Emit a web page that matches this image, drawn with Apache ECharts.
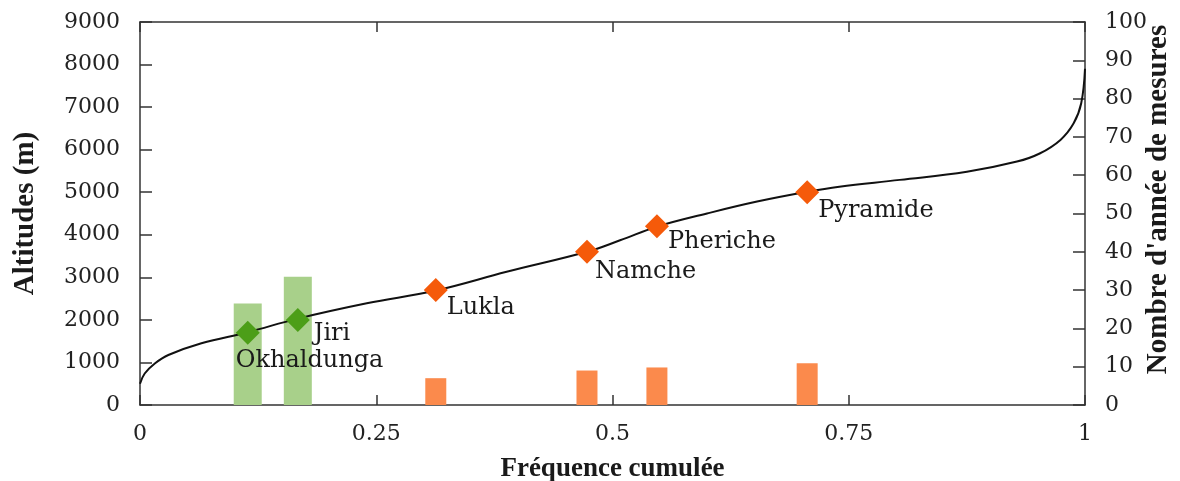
<!DOCTYPE html>
<html>
<head>
<meta charset="utf-8">
<script src="https://cdn.jsdelivr.net/npm/echarts@6/dist/echarts.min.js"></script>
<style>html,body{margin:0;padding:0;background:#fff}#c{width:1180px;height:481px}</style>
</head>
<body>
<div id="c"></div>
<script>
// Hypsometric curve (cumulative frequency vs altitude)
const curveX = [0, 0.005, 0.016, 0.03, 0.065, 0.114, 0.167, 0.24, 0.313, 0.388, 0.473, 0.508, 0.547, 0.6, 0.653, 0.706, 0.74, 0.804, 0.875, 0.928, 0.952, 0.974, 0.988, 0.996, 1.0];
const curveY = [500, 740, 980, 1175, 1450, 1710, 2030, 2390, 2690, 3130, 3600, 3870, 4190, 4500, 4780, 5010, 5130, 5290, 5480, 5720, 5910, 6230, 6620, 7090, 7900];

// Stations
const greenNames = ['Okhaldunga', 'Jiri'];
const greenX = [0.114, 0.167];
const greenAlt = [1700, 2000];
const greenYears = [26.5, 33.5];

const orangeNames = ['Lukla', 'Namche', 'Pheriche', 'Pyramide'];
const orangeX = [0.313, 0.473, 0.547, 0.706];
const orangeAlt = [2700, 3600, 4200, 5000];
const orangeYears = [7, 9, 9.8, 10.9];

const xTicks = [0, 0.25, 0.5, 0.75, 1];

const FONT = 'DejaVu Serif';
const TFONT = 'Liberation Serif';
const TXT = '#1a1a1a';
const AX = '#333';

const labelPos = {
  'Okhaldunga': [0, 28], 'Jiri': [28, 14], 'Lukla': [23, 18],
  'Namche': [20, 20], 'Pheriche': [23, 15], 'Pyramide': [23, 19]
};

function stationPoints(names, xs, alts) {
  return names.map((n, i) => ({
    name: n, value: [xs[i], alts[i]],
    label: { show: true, formatter: n, position: labelPos[n], align: 'left', verticalAlign: 'top',
      fontFamily: FONT, fontSize: 24, color: TXT }
  }));
}

const chart = echarts.init(document.getElementById('c'), null, { renderer: 'canvas' });
const xBase = { type: 'value', min: 0, max: 1, interval: 0.25 };
const tickStyle = { color: AX, width: 1.5 };
chart.setOption({
  animation: false,
  grid: { left: 140, right: 95, top: 22, bottom: 76, containLabel: false, outerBoundsMode: 'none' },
  xAxis: [
    Object.assign({}, xBase, {
      position: 'bottom',
      name: 'Fréquence cumulée', nameLocation: 'middle', nameGap: 51,
      nameTextStyle: { fontFamily: TFONT, fontWeight: 'bold', fontSize: 27, color: TXT },
      axisLine: { show: true, onZero: false, lineStyle: tickStyle },
      axisTick: { show: true, inside: true, length: 10, lineStyle: tickStyle },
      minorTick: { show: false },
      axisLabel: { fontFamily: FONT, fontSize: 22, color: '#222', margin: 18,
        formatter: v => xTicks.includes(v) ? String(v) : '' },
      splitLine: { show: false }
    }),
    Object.assign({}, xBase, {
      position: 'top',
      axisLine: { show: true, onZero: false, lineStyle: tickStyle },
      axisTick: { show: true, inside: true, length: 10, lineStyle: tickStyle },
      minorTick: { show: false },
      axisLabel: { show: false }, splitLine: { show: false }
    }),
    Object.assign({}, xBase, { show: false }),
    Object.assign({}, xBase, { show: false })
  ],
  yAxis: [
    {
      type: 'value', min: 0, max: 9000, interval: 1000, position: 'left',
      name: 'Altitudes (m)', nameLocation: 'middle', nameGap: 100,
      nameTextStyle: { fontFamily: TFONT, fontWeight: 'bold', fontSize: 29, color: TXT },
      axisLine: { show: true, onZero: false, lineStyle: tickStyle },
      axisTick: { show: true, inside: true, length: 12, lineStyle: tickStyle },
      minorTick: { show: false },
      axisLabel: { fontFamily: FONT, fontSize: 22, color: '#222', margin: 20, formatter: v => String(v) },
      splitLine: { show: false }
    },
    {
      type: 'value', min: 0, max: 100, interval: 10, position: 'right',
      name: "Nombre d'année de mesures", nameLocation: 'middle', nameGap: 59, nameMoveOverlap: false,
      nameTextStyle: { fontFamily: TFONT, fontWeight: 'bold', fontSize: 29, color: TXT, padding: [0, 0, 0, 28] },
      axisLine: { show: true, onZero: false, lineStyle: tickStyle },
      axisTick: { show: true, inside: true, length: 12, lineStyle: tickStyle },
      minorTick: { show: false },
      axisLabel: { fontFamily: FONT, fontSize: 22, color: '#222', margin: 20, formatter: v => String(v) },
      splitLine: { show: false }
    }
  ],
  series: [
    {
      type: 'bar', xAxisIndex: 2, yAxisIndex: 1, barWidth: 28,
      itemStyle: { color: '#a8d08a', opacity: 1 }, z: 1,
      data: greenX.map((x, i) => [x, greenYears[i]])
    },
    {
      type: 'bar', xAxisIndex: 3, yAxisIndex: 1, barWidth: 21,
      itemStyle: { color: '#fb8a4c', opacity: 1 }, z: 1,
      data: orangeX.map((x, i) => [x, orangeYears[i]])
    },
    {
      type: 'line', xAxisIndex: 0, yAxisIndex: 0, showSymbol: false, smooth: 0.4,
      lineStyle: { color: '#111', width: 2 }, z: 2,
      data: curveX.map((x, i) => [x, curveY[i]])
    },
    {
      type: 'scatter', xAxisIndex: 0, yAxisIndex: 0, symbol: 'diamond', symbolSize: [24, 24],
      itemStyle: { color: '#4c9e18', opacity: 1 }, z: 3,
      data: stationPoints(greenNames, greenX, greenAlt)
    },
    {
      type: 'scatter', xAxisIndex: 0, yAxisIndex: 0, symbol: 'diamond', symbolSize: [24, 24],
      itemStyle: { color: '#f55a0a', opacity: 1 }, z: 3,
      data: stationPoints(orangeNames, orangeX, orangeAlt)
    }
  ]
});
</script>
</body>
</html>
